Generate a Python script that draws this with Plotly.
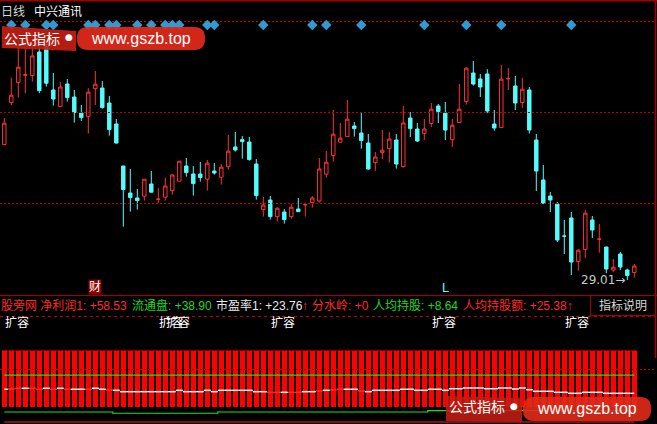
import plotly.graph_objects as go

W, H = 657, 424

# ---------------- data ----------------
idx = list(range(91))
open_ = [35.78, 37.88, 38.88, 39.25, 39.23, 40.41, 40.81, 38.51, 37.68, 38.81,
         38.16, 37.36, 37.18, 38.58, 38.61, 37.86, 36.81, 34.71, 33.36, 33.11,
         33.20, 33.81, 33.04, 33.15, 33.48, 33.95, 34.71, 34.31, 34.31, 34.05,
         34.46, 34.15, 34.68, 35.66, 36.03, 35.91, 34.81, 32.53, 33.01, 32.18,
         32.41, 32.18, 32.56, 32.77, 32.88, 32.96, 34.30, 35.23, 35.90, 36.18,
         36.71, 36.36, 35.86, 34.88, 35.38, 35.58, 36.01, 34.68, 37.11, 36.56,
         36.33, 36.83, 37.71, 37.36, 36.03, 36.88, 37.93, 39.36, 39.06, 39.31,
         36.81, 36.63, 39.07, 38.71, 37.88, 38.51, 36.01, 34.01, 33.21, 32.81,
         31.21, 32.11, 29.93, 30.53, 32.01, 31.05, 30.66, 29.51, 30.31, 29.51,
         29.38]
high = [37.11, 39.13, 40.81, 40.86, 40.68, 40.61, 41.01, 39.36, 38.91, 39.06,
        38.51, 37.76, 38.60, 39.46, 38.96, 38.21, 37.06, 34.72, 34.56, 33.56,
        34.05, 34.46, 33.61, 34.13, 34.30, 34.95, 35.11, 34.71, 34.91, 35.01,
        34.86, 34.81, 36.26, 36.41, 36.21, 36.16, 35.06, 33.16, 33.21, 32.65,
        32.56, 32.81, 33.11, 32.81, 33.21, 35.11, 35.46, 37.51, 36.86, 38.01,
        36.91, 37.41, 36.31, 35.41, 36.51, 36.41, 36.31, 37.71, 37.41, 36.86,
        37.06, 37.86, 37.81, 37.91, 37.06, 38.81, 39.65, 39.96, 39.31, 39.55,
        37.51, 39.76, 39.61, 39.21, 39.11, 38.66, 36.31, 34.76, 33.41, 32.91,
        32.01, 32.41, 30.55, 32.51, 32.21, 31.81, 30.67, 30.06, 30.41, 29.58,
        29.81]
low = [35.76, 37.76, 38.13, 38.35, 38.93, 38.35, 38.68, 37.73, 37.67, 37.93,
       36.88, 36.96, 36.33, 37.76, 37.58, 36.23, 35.83, 31.68, 32.43, 32.53,
       32.98, 33.39, 32.85, 32.98, 33.28, 33.94, 34.18, 33.23, 33.93, 33.48,
       34.28, 33.78, 34.53, 35.43, 35.08, 34.98, 33.03, 32.18, 32.03, 31.93,
       31.83, 32.08, 32.42, 32.18, 32.63, 32.88, 34.13, 34.93, 35.89, 36.17,
       36.18, 35.58, 34.53, 34.48, 35.06, 34.88, 34.58, 34.63, 36.16, 35.91,
       36.01, 36.66, 36.86, 36.01, 35.66, 36.87, 37.78, 38.73, 38.16, 37.35,
       36.48, 36.62, 38.51, 37.51, 37.61, 36.33, 33.46, 32.81, 32.41, 30.91,
       30.31, 29.26, 29.48, 30.11, 31.11, 30.38, 29.35, 29.40, 29.51, 29.01,
       29.13]
close = [36.85, 38.25, 39.65, 39.27, 40.21, 38.48, 38.85, 38.06, 38.66, 38.13,
         37.38, 37.13, 38.40, 38.80, 37.63, 36.53, 35.86, 33.53, 33.13, 32.98,
         34.05, 33.40, 33.05, 33.71, 34.26, 34.95, 34.38, 33.83, 34.13, 34.85,
         34.36, 34.65, 35.45, 35.51, 35.93, 35.03, 33.23, 32.76, 32.18, 32.60,
         32.03, 32.65, 32.43, 32.78, 33.11, 34.56, 34.90, 36.30, 36.10, 37.05,
         36.58, 35.98, 34.56, 35.16, 35.50, 36.06, 34.81, 36.86, 36.58, 35.96,
         36.56, 37.55, 37.43, 36.51, 36.75, 37.55, 39.60, 38.81, 38.66, 37.46,
         36.61, 39.05, 39.08, 37.86, 38.55, 36.51, 34.46, 32.85, 33.01, 31.01,
         31.20, 29.91, 30.50, 32.35, 31.51, 31.06, 29.56, 29.65, 29.66, 29.23,
         29.71]

signal_idx = [1, 3, 6, 7, 12, 13, 15, 16, 19, 21, 23, 24, 25, 29, 30, 37, 44, 46, 51, 60, 66, 71, 81]
SIGNAL_LEVEL = 41.76
expand_idx = [0, 22, 23, 38, 61, 80]
cai_idx = 13
l_idx = 63
low_idx, low_value = 89, 29.01

title_period = "日线"
title_name = "中兴通讯"
info_items = [
    ("股旁网 净利润1: +58.53", "#FF2828", 0),
    ("流通盘: +38.90", "#22D622", 131),
    ("市盈率1: +23.76", "#E8E8E8", 215),
    ("↑", "#FF2828", 301),
    ("分水岭: +0", "#FF2828", 311),
    ("人均持股: +8.64", "#22D622", 372),
    ("人均持股额: +25.38↑", "#FF2828", 462),
]

# lower indicator panel
bar_top = [100.0] * 91
BAR_BASE = 21.5
upper_green = [66.0] * 91
zero_line = [0.0] * 91
white_vals = [46.1, 46.5, 47.5, 47.5, 47.5, 46.1, 47.5, 46.1, 47.5, 46.1,
              46.1, 46.1, 46.1, 47.5, 46.1, 45.1, 44.6, 42.7, 42.7, 42.7,
              42.7, 42.7, 42.7, 42.7, 42.7, 44.6, 42.7, 42.7, 42.7, 44.6,
              42.7, 44.6, 44.6, 44.6, 44.6, 44.6, 42.7, 42.7, 41.8, 41.8,
              41.8, 41.8, 41.8, 42.7, 42.7, 43.7, 44.6, 45.1, 46.1, 46.1,
              46.1, 43.7, 42.7, 44.6, 44.6, 44.6, 44.6, 46.1, 46.1, 44.6,
              44.6, 46.1, 46.1, 44.6, 46.9, 46.9, 47.9, 47.9, 47.9, 46.9,
              46.9, 47.9, 47.9, 46.5, 47.9, 45.5, 43.2, 43.2, 43.2, 41.8,
              41.8, 40.4, 40.4, 41.8, 41.8, 41.8, 40.4, 40.4, 40.4, 40.4,
              40.4]
white_flags = ("WRRWRRWRWR" "WWRWWRWWWW" "WWWWWWWWWW" "WWWWWWWWRR"
               "WRRWWRWRRW" "WRWWWWWWWW" "WWWWWWWWWW" "WWWWWWWWWW"
               "WWWWWWWWWW" "W")
lower_green = [14.1, 14.1, 14.1, 14.1, 14.1, 14.1, 14.1, 14.1, 14.1, 14.1,
               14.1, 14.1, 14.1, 14.1, 14.1, 14.1, 12.3, 12.3, 12.3, 12.3,
               12.3, 12.3, 12.3, 12.3, 12.3, 12.3, 12.3, 12.3, 12.3, 12.3,
               12.3, 14.1, 14.1, 14.1, 14.1, 14.1, 14.1, 14.1, 14.1, 14.1,
               14.1, 14.1, 14.1, 14.1, 14.1, 14.1, 14.1, 14.1, 14.1, 14.1,
               14.1, 14.1, 14.1, 14.1, 14.1, 14.1, 14.1, 14.1, 14.1, 14.1,
               14.1, 15.9, 15.9, 15.9, 15.9, 15.9, 15.9, 15.9, 15.9, 15.9,
               15.9, 15.9, 15.9, 15.9, 15.9, 15.9, 15.9, 15.9, 15.9, 15.9,
               15.9, 15.9, 15.9, 15.9, 15.9, 15.9, 15.9, 15.9, 15.9, 15.9,
               15.9]

# ---------------- styling helpers ----------------
RED = "#FF3232"
CYAN = "#54FCFC"
DARKRED = "#A00000"
GRID = "#C00000"
DOTS = "2px,2px"
FONT = "Liberation Sans, Noto Sans CJK SC, sans-serif"


def px(x):
    return x / W


def py(y):
    return 1 - y / H


fig = go.Figure()

# dotted grid lines drawn as traces on the price / indicator axes
grid_price = [41.935, 37.385, 32.835]
for g in grid_price:
    fig.add_trace(go.Scatter(x=[-0.614, 93.0], y=[g, g], mode="lines", yaxis="y",
                             line=dict(color=GRID, width=1, dash=DOTS),
                             hoverinfo="skip"))
fig.add_trace(go.Scatter(x=[-0.614, 93.0], y=[73.94, 73.94], mode="lines", yaxis="y2",
                         line=dict(color=GRID, width=1, dash=DOTS),
                         hoverinfo="skip"))

# candlesticks
fig.add_trace(go.Candlestick(
    x=idx, open=open_, high=high, low=low, close=close,
    increasing=dict(line=dict(color=RED, width=1), fillcolor="black"),
    decreasing=dict(line=dict(color=CYAN, width=1), fillcolor=CYAN),
    whiskerwidth=0, hoverinfo="skip", yaxis="y"))

# signal diamonds
fig.add_trace(go.Scatter(
    x=signal_idx, y=[SIGNAL_LEVEL] * len(signal_idx), mode="markers",
    marker=dict(symbol="diamond", size=8, color="#2F9BD3", line=dict(width=0)),
    yaxis="y", hoverinfo="skip"))

# lower panel bars
fig.add_trace(go.Bar(
    x=idx, y=[v - BAR_BASE for v in bar_top], base=BAR_BASE, width=0.67,
    marker=dict(color="#FF0000", line=dict(width=0)), yaxis="y2",
    hoverinfo="skip"))
fig.add_trace(go.Scatter(
    x=[-0.34] + idx + [90.34], y=[bar_top[0]] + bar_top + [bar_top[-1]],
    mode="lines", line=dict(color="#FF0000", width=1), yaxis="y2",
    hoverinfo="skip"))
fig.add_trace(go.Scatter(
    x=idx, y=upper_green, mode="lines", line=dict(color="#1EE01E", width=1.2),
    yaxis="y2", hoverinfo="skip"))
fig.add_trace(go.Scatter(
    x=idx, y=lower_green, mode="lines", line=dict(color="#1EE01E", width=1.2, shape="hvh"),
    yaxis="y2", hoverinfo="skip"))
fig.add_trace(go.Scatter(
    x=idx, y=zero_line, mode="lines", line=dict(color="#FF2020", width=1.2),
    yaxis="y2", hoverinfo="skip"))

# conditional-coloured step line
seg = {"W": ([], []), "R": ([], [])}
for i, (v, f) in enumerate(zip(white_vals, white_flags)):
    xs, ys = seg[f]
    xs += [max(i - 0.5, 0), min(i + 0.5, 90), None]
    ys += [v, v, None]
fig.add_trace(go.Scatter(x=seg["R"][0], y=seg["R"][1], mode="lines",
                         line=dict(color="#FF2A2A", width=1.5), yaxis="y2",
                         hoverinfo="skip", connectgaps=False))
fig.add_trace(go.Scatter(x=seg["W"][0], y=seg["W"][1], mode="lines",
                         line=dict(color="#FFFFFF", width=1.5), yaxis="y2",
                         hoverinfo="skip", connectgaps=False))

# ---------------- frame shapes ----------------
shapes = []


def hline(y, x0=0, x1=W, color=DARKRED, dash="solid", layer="above", width=1):
    shapes.append(dict(type="line", xref="paper", yref="paper",
                       x0=px(x0), x1=px(x1), y0=py(y), y1=py(y),
                       line=dict(color=color, width=width, dash=dash), layer=layer))


hline(0.7, width=1.5)
hline(295.5)
hline(316.5, 0, 655, color=GRID, dash="dot")
shapes.append(dict(type="line", xref="paper", yref="paper",
                   x0=px(655.5), x1=px(655.5), y0=py(0), y1=py(358),
                   line=dict(color=DARKRED, width=1.5)))
shapes.append(dict(type="rect", xref="paper", yref="paper",
                   x0=px(590.5), x1=px(655.5), y0=py(295.5), y1=py(315.5),
                   line=dict(color=DARKRED, width=1), fillcolor="black"))


def pill(x0, y0, x1, y1, r, color):
    P = lambda x, y: f"{px(x):.5f},{py(y):.5f}"
    path = (f"M{P(x0 + r, y0)} L{P(x1 - r, y0)} Q{P(x1, y0)} {P(x1, y0 + r)} "
            f"L{P(x1, y1 - r)} Q{P(x1, y1)} {P(x1 - r, y1)} L{P(x0 + r, y1)} "
            f"Q{P(x0, y1)} {P(x0, y1 - r)} L{P(x0, y0 + r)} Q{P(x0, y0)} {P(x0 + r, y0)} Z")
    shapes.append(dict(type="path", xref="paper", yref="paper", path=path,
                       fillcolor=color, line=dict(width=0)))


def quad(pts, color):
    path = "M" + " L".join(f"{px(x):.5f},{py(y):.5f}" for x, y in pts) + " Z"
    shapes.append(dict(type="path", xref="paper", yref="paper", path=path,
                       fillcolor=color, line=dict(width=0)))


# watermarks
quad([(2, 26), (76, 31), (76, 51), (2, 48)], "rgba(195,30,20,0.92)")
pill(77, 27, 205, 50, 11, "rgba(226,42,26,0.93)")
quad([(446, 396), (522, 398), (522, 422), (446, 421)], "rgba(195,30,20,0.88)")
pill(523, 397, 651, 421, 11, "rgba(226,42,26,0.9)")

# ---------------- annotations ----------------
ann = []


def text(x, y, s, color, size=12, xanchor="left", xref="paper", bg=None, family=FONT):
    d = dict(x=px(x) if xref == "paper" else x, y=py(y), xref=xref, yref="paper",
             text=s, showarrow=False, xanchor=xanchor, yanchor="middle",
             font=dict(color=color, size=size, family=family), borderpad=0)
    if bg:
        d["bgcolor"] = bg
    ann.append(d)


text(0, 11.5, title_period, "#D8D8D8")
text(33, 11.5, title_name, "#FFFFFF")
for s, c, x in info_items:
    text(x, 305.5, s, c)
text(622.5, 305.5, "指标说明", "#D8D8D8", xanchor="center")
for i in expand_idx:
    text(i, 322.5, "扩容", "#FFFFFF", xref="x")
text(cai_idx, 287, "财", "#FFFFFF", xanchor="center", xref="x", bg="#8C0000")
text(l_idx, 287, "L", CYAN, size=13, xanchor="center", xref="x")
ann.append(dict(x=low_idx, y=py(280), xref="x", yref="paper", text=f"{low_value:.2f}→",
                showarrow=False, xanchor="right", yanchor="middle",
                font=dict(color="#C8C8C8", size=12, family="DejaVu Sans, Liberation Sans")))

# watermark texts
text(3, 38.5, "公式指标", "#FFFFFF", size=14)
text(68.5, 37.5, "●", "#FFFFFF", size=9, xanchor="center", family="DejaVu Sans")
text(141, 38.5, "www.gszb.top", "#FFFFFF", size=16, xanchor="center")
text(448, 407, "公式指标", "#FFFFFF", size=14)
text(514, 406, "●", "#FFFFFF", size=9, xanchor="center", family="DejaVu Sans")
text(587, 408, "www.gszb.top", "#FFFFFF", size=16, xanchor="center")

fig.update_layout(
    width=W, height=H, margin=dict(l=0, r=0, t=0, b=0),
    paper_bgcolor="black", plot_bgcolor="black", showlegend=False,
    hovermode=False, shapes=shapes, annotations=ann, bargap=0,
    xaxis=dict(range=[-0.614, 93.243], visible=False, fixedrange=True,
               rangeslider=dict(visible=False)),
    yaxis=dict(domain=[1 - 293 / H, 1], range=[43.01 - 293 / 20, 43.01],
               visible=False, fixedrange=True),
    yaxis2=dict(domain=[0, 1 - 330 / H], range=[-2 / 0.71, 92 / 0.71],
                visible=False, fixedrange=True),
)

fig.write_html(
    "out.html",
    config={"displayModeBar": False},
    post_script="document.body.style.margin='0';document.body.style.padding='0';"
                "document.body.style.background='black';",
)
